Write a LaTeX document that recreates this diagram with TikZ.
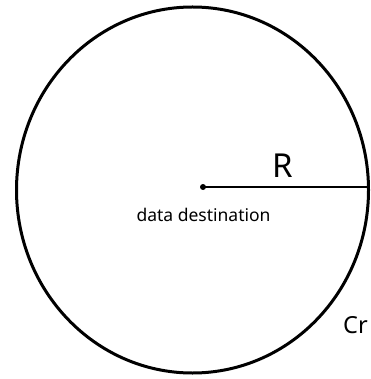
\documentclass[tikz,border=0pt]{standalone}
\usepackage{fontspec}
\setmainfont{Noto Sans}
\usetikzlibrary{positioning, calc}

\begin{document}
\begin{tikzpicture}[x=1pt, y=-1pt, every node/.style={font=\rmfamily, inner sep=0pt}]
  \useasboundingbox (0, 0) rectangle (370, 379);
  \draw[line width=3pt] (192.5, 190) ellipse [x radius=176, y radius=183];

  \node[circle, fill=black, minimum size=6pt] (dest) at (203, 187) {};
  \coordinate (rim) at (370, 187);
  \draw[line width=1.1pt] (dest.center) -- (rim);

  \node[font=\fontsize{33}{36}\selectfont, anchor=base] (radius) at (283, 177) {R};
  \node[font=\fontsize{17.5}{20}\selectfont, anchor=base] (destlabel) at (203.5, 221) {data destination};
  \node[font=\fontsize{23.5}{26}\selectfont, anchor=base west] (region) at (343, 333) {Cr};
\end{tikzpicture}
\end{document}
